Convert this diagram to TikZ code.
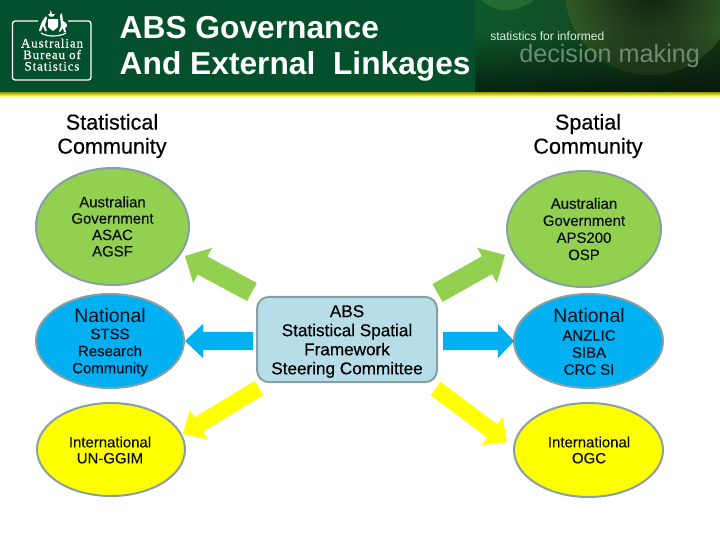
\documentclass[tikz,border=0pt]{standalone}
\usepackage{fontspec}
\usetikzlibrary{calc,shapes.geometric,fadings}
\setmainfont{Liberation Sans}
\newfontfamily\medf{Liberation Sans}[FakeBold=0.35]
\newfontfamily\logof{Liberation Serif}[FakeBold=0.4,LetterSpace=7]
\definecolor{hdr}{HTML}{04502C}
\definecolor{panelL}{HTML}{0E5A2C}
\definecolor{panelR}{HTML}{153A1A}
\definecolor{circA}{HTML}{2F7A38}
\definecolor{circI}{HTML}{121F0F}
\definecolor{circO}{HTML}{2F5A26}
\definecolor{tagtwo}{HTML}{6C8C72}
\definecolor{rim}{HTML}{88A0A4}
\definecolor{cgreen}{HTML}{92D050}
\definecolor{cblue}{HTML}{00B0F0}
\definecolor{cyellow}{HTML}{FFFF00}
\definecolor{cbox}{HTML}{B7DDE8}
\definecolor{ink}{HTML}{0A0E1A}
\tikzset{
  oval/.style={ellipse,draw=rim,line width=1.5pt,inner sep=0pt,align=center,text=ink,font=\medf\fontsize{11.2}{12.3}\selectfont},
  ovaltext/.style={align=center,text=ink,font=\medf\fontsize{11.2}{#1}\selectfont},
  sz/.style n args={2}{minimum width=#1*0.75pt,minimum height=#2*0.75pt},
  heading/.style={align=center,text=black,font=\medf\fontsize{16.2}{18}\selectfont},
  natl/.style={text=ink,font=\fontsize{14.6}{17}\selectfont},
  title/.style={anchor=west,text=white,font=\bfseries\fontsize{23.8}{29}\selectfont},
  logotext/.style={anchor=base,text=white,inner sep=0pt,font=\logof\fontsize{9.7}{9.7}\selectfont},
}
% tail, tip, colour, half shaft, half head, head length (pt)
\newcommand{\blockarrow}[6]{%
  \fill[#3] ($(#1)!#4pt!-90:(#2)$) -- ($($(#2)!#6pt!(#1)$)!#4pt!-90:(#2)$) -- ($($(#2)!#6pt!(#1)$)!#5pt!-90:(#2)$) -- (#2)
   -- ($($(#2)!#6pt!(#1)$)!#5pt!90:(#2)$) -- ($($(#2)!#6pt!(#1)$)!#4pt!90:(#2)$) -- ($(#1)!#4pt!90:(#2)$) -- cycle;}
\begin{document}
\begin{tikzpicture}[x=0.75pt,y=-0.75pt]
\useasboundingbox (0,0) rectangle (720,540);
\fill[white] (0,0) rectangle (720,540);
% header band
\fill[hdr] (0,0) rectangle (720,92);
\begin{scope}
  \clip (475,0) rectangle (720,92);
  \shade[left color=panelL,right color=panelR] (475,0) rectangle (720,92);
  \fill[circA,opacity=.6] (507,-30) circle [radius=40];
  \shade[inner color=circI,outer color=circO] (650,-10) circle [radius=85];
  \fill[black,path fading=north,opacity=.6] (475,30) rectangle (720,92);
\end{scope}
\shade[top color=black!40!yellow,bottom color=cyellow!55] (0,92) rectangle (720,96);
% logo
\draw[white,line width=1pt,rounded corners=2pt] (38,21) -- (12.5,21) -- (12.5,80) -- (91,80) -- (91,21) -- (68,21);
\fill[white] (48,19) -- (58,19) -- (58,27) -- (53,31) -- (48,27) -- cycle;
\fill[white] (50.5,10) -- (52,14) -- (55,14) -- (53,16.5) -- (50,16.5) -- (48,14) -- (50,14) -- cycle;
\fill[white] (39,31) .. controls (41,22) and (43,20) .. (46,16) -- (47,18) -- (45,25) -- (47,31) -- (45,31) -- (43,26) -- (41,31) -- cycle;
\fill[white] (60,15) -- (62,13) -- (63,21) .. controls (68,23) and (68,27) .. (65,28) -- (66,32) -- (64,32) -- (63,28) -- (60,32) -- (59,31) -- (61,26) -- cycle;
\draw[white,line width=.9pt] (41,33) .. controls (47,37) and (59,37) .. (66,33);
\node[logotext] (logo1) at (52,47.5) {Australian};
\node[logotext] (logo2) at (52,59) {Bureau of};
\node[logotext] (logo3) at (52,70.5) {Statistics};
% header text
\node[title] (t1) at (115,27.5) {ABS Governance};
\node[title] (t2) at (115,66.5) {And External\ \ Linkages};
\node[anchor=west,text=white!88!hdr,inner sep=0pt,font=\fontsize{9.05}{11}\selectfont] (tag1) at (490,36) {statistics for informed};
\node[anchor=west,text=tagtwo,inner sep=0pt,font=\fontsize{18.9}{22}\selectfont] (tag2) at (519,56) {decision making};
% columns
\node[heading] (hl) at (112,136) {Statistical\\Community};
\node[heading] (hr) at (588,136) {Spatial\\Community};
% ovals
\node[oval,fill=cgreen,sz={153}{117}] (lg) at (112.5,226.5) {Australian\\Government\\ASAC\\AGSF};
\node[oval,fill=cblue,sz={148}{94}] (lb) at (110,341) {};
\node[oval,fill=cyellow,sz={148}{93}] (ly) at (111,449.5) {};
\node[oval,fill=cgreen,sz={154}{116}] (rg) at (584,229) {};
\node[oval,fill=cblue,sz={149}{94}] (rb) at (588.5,341) {};
\node[oval,fill=cyellow,sz={149}{94}] (ry) at (588.5,450) {};
\node[ovaltext=12.8] (rgt) at (584,229) {Australian\\Government\\APS200\\OSP};
\node[ovaltext=12.8] (lbt) at (110,352.5) {STSS\\Research\\Community};
\node[ovaltext=12.8] (rbt) at (589,352.5) {ANZLIC\\SIBA\\CRC SI};
\node[natl] (lbh) at (110,316) {National};
\node[natl] (rbh) at (589,316) {National};
\node[ovaltext=12] (lyt) at (110,450) {International\\UN-GGIM};
\node[ovaltext=12] (ryt) at (589,450) {International\\OGC};
% centre box
\node[draw=rim,fill=cbox,line width=1.5pt,rounded corners=9pt,minimum width=135pt,minimum height=64pt,inner sep=0pt]
  (box) at (347,339.5) {};
\node[align=center,text=black,font=\medf\fontsize{12.85}{14.3}\selectfont] (boxt) at (347,341.5) {ABS\\Statistical Spatial\\Framework\\Steering Committee};
% block arrows
\coordinate (a1) at (252,292); \coordinate (b1) at (185,256);
\coordinate (a2) at (253,341); \coordinate (b2) at (185,341);
\coordinate (a3) at (259,388); \coordinate (b3) at (183,434);
\coordinate (a4) at (437.5,293); \coordinate (b4) at (505,255);
\coordinate (a5) at (443,341); \coordinate (b5) at (514,341);
\coordinate (a6) at (435.5,388.5); \coordinate (b6) at (507,442);
\blockarrow{a1}{b1}{cgreen}{7.7}{15}{15}
\blockarrow{a2}{b2}{cblue}{6.8}{12.8}{13.5}
\blockarrow{a3}{b3}{cyellow}{6.2}{13}{13.8}
\blockarrow{a4}{b4}{cgreen}{7.7}{15}{15.5}
\blockarrow{a5}{b5}{cblue}{6.8}{12.8}{12}
\blockarrow{a6}{b6}{cyellow}{6.2}{13}{13.8}
\end{tikzpicture}
\end{document}
